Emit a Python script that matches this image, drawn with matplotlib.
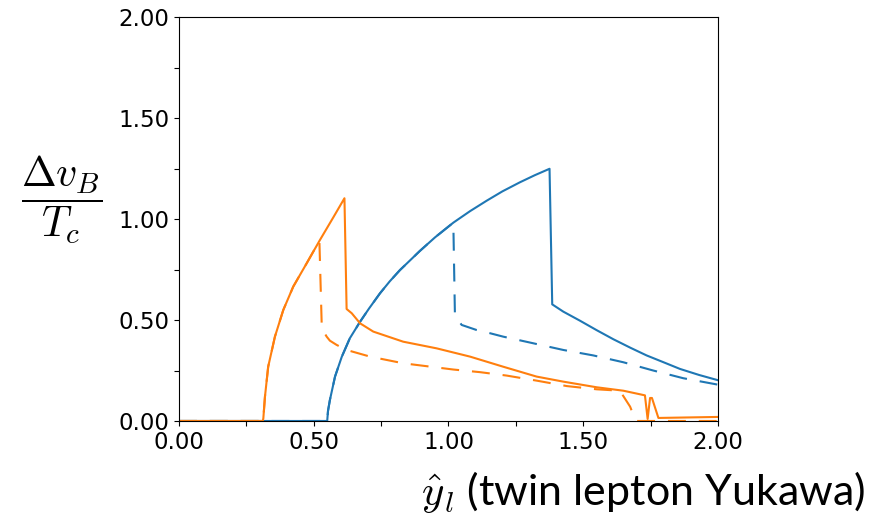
import matplotlib.pyplot as plt
from matplotlib.ticker import MultipleLocator, FormatStrFormatter

plt.rcParams['mathtext.fontset'] = 'cm'

# twin lepton Yukawa scan, blue branch
blue_x = [0.0, 0.550, 0.553, 0.560, 0.579, 0.604, 0.634, 0.672, 0.705, 0.746, 0.782,
          0.820, 0.894, 0.950, 1.018, 1.080, 1.142, 1.200, 1.265, 1.320, 1.375,
          1.385, 1.426, 1.488, 1.550, 1.612, 1.675, 1.735, 1.800, 1.859, 1.930, 2.0]
blue_y = [0.0, 0.0, 0.05, 0.104, 0.220, 0.318, 0.410, 0.492, 0.557, 0.633, 0.692,
          0.748, 0.843, 0.910, 0.983, 1.040, 1.092, 1.138, 1.183, 1.218, 1.250,
          0.578, 0.542, 0.497, 0.450, 0.405, 0.363, 0.325, 0.290, 0.258, 0.228, 0.202]

blue_dash_x = [0.0, 0.550, 0.553, 0.560, 0.579, 0.604, 0.634, 0.672, 0.705, 0.746, 0.782,
               0.820, 0.894, 0.950, 1.018, 1.024, 1.049, 1.104, 1.154, 1.203, 1.315,
               1.426, 1.537, 1.649, 1.760, 1.871, 2.0]
blue_dash_y = [0.0, 0.0, 0.05, 0.104, 0.220, 0.318, 0.410, 0.492, 0.557, 0.633, 0.692,
               0.748, 0.843, 0.910, 0.983, 0.52, 0.476, 0.451, 0.435, 0.418, 0.385,
               0.352, 0.325, 0.291, 0.250, 0.212, 0.180]

# orange branch
orange_x = [0.0, 0.311, 0.313, 0.319, 0.331, 0.356, 0.387, 0.424, 0.474, 0.523, 0.573,
            0.614, 0.622, 0.641, 0.672, 0.721, 0.832, 0.956, 1.080, 1.203, 1.327, 1.426,
            1.550, 1.649, 1.729, 1.739, 1.748, 1.755, 1.779, 2.0]
orange_y = [0.0, 0.0, 0.013, 0.120, 0.269, 0.418, 0.550, 0.666, 0.782, 0.897, 1.010,
            1.104, 0.555, 0.534, 0.484, 0.443, 0.393, 0.360, 0.319, 0.269, 0.220, 0.195,
            0.167, 0.150, 0.127, 0.01, 0.114, 0.114, 0.015, 0.02]

orange_dash_x = [0.0, 0.311, 0.313, 0.319, 0.331, 0.356, 0.387, 0.424, 0.474, 0.521,
                 0.530, 0.548, 0.560, 0.585, 0.622, 0.709, 0.832, 1.018, 1.117, 1.216,
                 1.327, 1.439, 1.550, 1.636, 1.674, 1.695, 2.0]
orange_dash_y = [0.0, 0.0, 0.013, 0.120, 0.269, 0.418, 0.550, 0.666, 0.782, 0.893,
                 0.459, 0.418, 0.398, 0.377, 0.352, 0.319, 0.286, 0.255, 0.242, 0.225,
                 0.200, 0.173, 0.157, 0.150, 0.071, 0.0, 0.0]

fig = plt.figure(figsize=(8.83, 5.28), dpi=100)
ax = fig.add_axes([0.2027, 0.2027, 0.6104, 0.7642])

dash = (0, (8.6, 6.2))
ax.plot(blue_dash_x, blue_dash_y, color='#1f77b4', lw=1.5, ls=dash)
ax.plot(orange_dash_x, orange_dash_y, color='#ff7f0e', lw=1.5, ls=dash)
ax.plot(blue_x, blue_y, color='#1f77b4', lw=1.5)
ax.plot(orange_x, orange_y, color='#ff7f0e', lw=1.5)

ax.set_xlim(0, 2)
ax.set_ylim(0, 2)
for axis in (ax.xaxis, ax.yaxis):
    axis.set_major_locator(MultipleLocator(0.5))
    axis.set_minor_locator(MultipleLocator(0.25))
    axis.set_major_formatter(FormatStrFormatter('%.2f'))
ax.tick_params(which='both', length=3.5, width=0.8, labelsize=16.5)

fig.text(0.070, 0.621, r'$\dfrac{\Delta v_B}{T_c}$', fontsize=30,
         ha='center', va='center')
fig.text(0.98, 0.0436, r'$\hat{y}_l$ (twin lepton Yukawa)', fontsize=31,
         family='Lato', ha='right', va='baseline')

fig.savefig('out.png', dpi=100)
